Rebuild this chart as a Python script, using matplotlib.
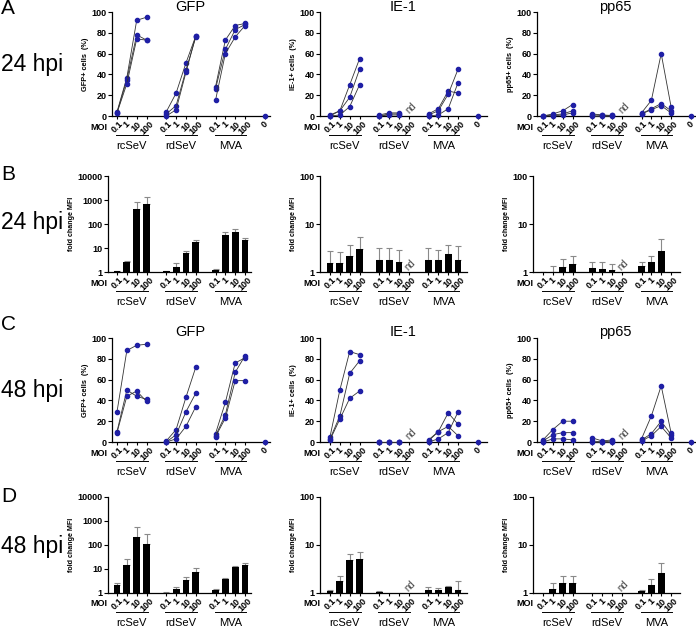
import numpy as np
import matplotlib.pyplot as plt
from matplotlib.transforms import blended_transform_factory
from matplotlib.ticker import NullLocator

plt.rcParams['font.family'] = ['Liberation Sans', 'DejaVu Sans']

W, H = 696, 627
BLUE = '#1f1fa5'
SLOT = 9.85

moi = ['0.1', '1', '10', '100']
groups = ['rcSeV', 'rdSeV', 'MVA']

# % positive cells, one line per donor (rdSeV 100 = nd)
gfp_24 = {'rcSeV': [[4, 37, 92, 95], [3, 35, 78, 73], [3, 31, 74, 73]],
          'rdSeV': [[4, 22, 51, 77], [2, 10, 44, 76], [0, 6, 42, 77]],
          'MVA': [[28, 73, 87, 89], [26, 64, 83, 88], [15, 60, 76, 87]]}
ie1_24 = {'rcSeV': [[1, 5, 30, 55], [0, 5, 18, 45], [0, 1, 9, 30]],
          'rdSeV': [[1, 3, 3], [0, 2, 2], [0, 1, 1]],
          'MVA': [[2, 7, 24, 22], [1, 5, 21, 45], [0, 1, 7, 32]]}
pp65_24 = {'rcSeV': [[0, 2, 5, 11], [0, 1, 2, 5], [0, 0, 1, 3]],
           'rdSeV': [[2, 1, 0.5], [1, 0.5, 0.5], [0, 0, 0]],
           'MVA': [[3, 15, 60, 9], [2, 7, 12, 5], [2, 6, 10, 3]]}
gfp_48 = {'rcSeV': [[29, 88, 93, 94], [10, 50, 44, 41], [9, 44, 49, 39]],
          'rdSeV': [[1, 12, 43, 72], [0, 7, 29, 47], [0, 3, 15, 34]],
          'MVA': [[8, 38, 76, 81], [6, 26, 67, 83], [5, 23, 59, 59]]}
ie1_48 = {'rcSeV': [[5, 50, 87, 84], [3, 25, 66, 78], [2, 22, 42, 49]],
          'rdSeV': [[0, 0, 0], [0, 0, 0], [0, 0, 0]],
          'MVA': [[2, 10, 28, 17], [1, 10, 15, 6], [0, 3, 9, 29]]}
pp65_48 = {'rcSeV': [[2, 12, 20, 20], [1, 7, 9, 9], [0, 3, 3, 2]],
           'rdSeV': [[4, 1, 2], [1, 0, 1], [0, 0, 0]],
           'MVA': [[3, 25, 54, 9], [2, 8, 20, 7], [1, 6, 15, 4]]}
mock = 0

# fold change MFI, mean and top of error bar (rcSeV, rdSeV, MVA x 4 MOI)
nan = np.nan
mfi_gfp_24 = [1.05, 2.6, 430, 650, 1.05, 1.6, 6, 17, 1.25, 35, 48, 22]
mfi_gfp_24_err = [1.05, 3.0, 800, 1300, 1.05, 2.3, 7.5, 21, 1.3, 45, 62, 26]
mfi_ie1_24 = [1.55, 1.52, 2.15, 3.0, 1.75, 1.75, 1.65, nan, 1.8, 1.8, 2.35, 1.75]
mfi_ie1_24_err = [2.7, 2.6, 3.7, 5.4, 3.1, 3.2, 2.9, nan, 3.1, 2.85, 3.6, 3.4]
mfi_pp65_24 = [1.0, 1.0, 1.28, 1.45, 1.2, 1.18, 1.12, nan, 1.33, 1.58, 2.75, nan]
mfi_pp65_24_err = [1.0, 1.32, 1.9, 2.2, 1.6, 1.6, 1.5, nan, 1.65, 2.2, 4.8, nan]
mfi_gfp_48 = [2.1, 15, 220, 110, 1.02, 1.45, 3.6, 7.8, 1.3, 3.8, 12, 14]
mfi_gfp_48_err = [2.5, 27, 570, 300, 1.05, 1.75, 4.5, 11, 1.4, 4.2, 13, 17]
mfi_ie1_48 = [1.12, 1.8, 4.8, 5.0, 1.04, nan, nan, nan, 1.18, 1.15, 1.35, 1.18]
mfi_ie1_48_err = [1.17, 2.25, 6.4, 7.1, 1.12, nan, nan, nan, 1.32, 1.25, 1.38, 1.75]
mfi_pp65_48 = [nan, 1.22, 1.6, 1.6, nan, nan, nan, nan, 1.12, 1.5, 2.6, nan]
mfi_pp65_48_err = [nan, 1.6, 2.3, 2.25, nan, nan, nan, nan, 1.15, 1.95, 4.2, nan]

fig = plt.figure(figsize=(W / 100, H / 100), dpi=100)

positions = [g * 5 + i for g in range(3) for i in range(4)]


def add_ax(left, right, top, bottom):
    return fig.add_axes([left / W, 1 - bottom / H, (right - left) / W, (bottom - top) / H])


def style(ax, x0, left, right, row_h, with_mock):
    ax.set_xlim((left - x0) / SLOT, (right - x0) / SLOT)
    for s in ['top', 'right']:
        ax.spines[s].set_visible(False)
    for s in ['left', 'bottom']:
        ax.spines[s].set_linewidth(0.9)
    ticks = list(positions)
    labels = moi * 3
    if with_mock:
        ticks.append(15)
        labels = labels + ['0']
    ax.set_xticks(ticks)
    ax.set_xticklabels(labels, rotation=45, fontsize=6.5, fontweight='bold')
    ax.tick_params(axis='x', length=2, pad=0.5, width=0.8)
    ax.tick_params(axis='y', length=3, pad=1, width=0.8)
    trans = blended_transform_factory(ax.transData, ax.transAxes)
    ax.text(-1.0, -11 / row_h, 'MOI', transform=trans, ha='right', va='center',
            fontsize=6.5, fontweight='bold')
    for g, name in enumerate(groups):
        ax.plot([g * 5 - 0.1, g * 5 + 3.1], [-19 / row_h] * 2, transform=trans,
                color='black', lw=0.7, clip_on=False)
        ax.text(g * 5 + 1.5, -30 / row_h, name, transform=trans, ha='center',
                va='center', fontsize=8)


def dot_panel(data, top, bottom, x0, left, right, ylabel, nd=False):
    ax = add_ax(left, right, top, bottom)
    for g, name in enumerate(groups):
        for series in data[name]:
            xs = [g * 5 + i for i in range(len(series))]
            ax.plot(xs, series, color='#333333', lw=0.6, marker='o', ms=3,
                    mfc=BLUE, mec=BLUE, clip_on=False, zorder=3)
    ax.plot(15, mock, 'o', ms=3, color=BLUE, clip_on=False, zorder=3)
    ax.set_ylim(0, 100)
    ax.set_yticks([0, 20, 40, 60, 80, 100])
    ax.set_yticklabels(['0', '20', '40', '60', '80', '100'], fontsize=6.5, fontweight='bold')
    ax.set_ylabel(ylabel, fontsize=5.3, fontweight='bold', labelpad=2)
    if nd:
        ax.text(8.25, 1, 'nd', rotation=45, fontsize=7, color='#444444',
                ha='center', va='bottom')
    style(ax, x0, left, right, bottom - top, True)
    return ax


def bar_panel(vals, errs, top, bottom, x0, left, right, ymax, nd=False):
    ax = add_ax(left, right, top, bottom)
    vals = np.array(vals, dtype=float)
    errs = np.array(errs, dtype=float)
    xs = np.array(positions, dtype=float)
    ok = ~np.isnan(vals)
    ax.set_yscale('log')
    ax.errorbar(xs[ok], vals[ok], yerr=[np.zeros(ok.sum()), errs[ok] - vals[ok]],
                fmt='none', ecolor='#8a8a8a', elinewidth=0.8, capsize=2, capthick=0.8, zorder=1)
    ax.bar(xs[ok], vals[ok] - 1, bottom=1, width=0.7, color='black', zorder=2)
    ax.set_ylim(1, ymax)
    ticks = [10 ** k for k in range(int(np.log10(ymax)) + 1)]
    ax.set_yticks(ticks)
    ax.set_yticklabels([str(t) for t in ticks], fontsize=6.5, fontweight='bold')
    ax.yaxis.set_minor_locator(NullLocator())
    ax.set_ylabel('fold change MFI', fontsize=5.1, fontweight='bold', labelpad=2)
    if nd:
        ax.text(8.1, 1.0, 'nd', rotation=45, fontsize=7, color='#444444',
                ha='center', va='bottom')
    style(ax, x0, left, right, bottom - top, False)
    return ax


# columns: (x of first MOI, dot-panel spine, dot-panel end, bar spine, bar end)
cols = [(117, 112, 270, 108, 251), (330, 320, 487, 320, 467), (543, 537, 696, 533, 680)]

dot_rows = [((12, 116), [gfp_24, ie1_24, pp65_24]), ((338, 442), [gfp_48, ie1_48, pp65_48])]
bar_rows = [((176, 272), [(mfi_gfp_24, mfi_gfp_24_err, 10000), (mfi_ie1_24, mfi_ie1_24_err, 100),
                          (mfi_pp65_24, mfi_pp65_24_err, 100)]),
            ((497, 593), [(mfi_gfp_48, mfi_gfp_48_err, 10000), (mfi_ie1_48, mfi_ie1_48_err, 100),
                          (mfi_pp65_48, mfi_pp65_48_err, 100)])]
ylabels = ['GFP+ cells  (%)', 'IE-1+ cells  (%)', 'pp65+ cells  (%)']

for (top, bottom), datas in dot_rows:
    for c, data in enumerate(datas):
        x0, l, r, _, _ = cols[c]
        dot_panel(data, top, bottom, x0, l, r, ylabels[c], nd=(c > 0))

for (top, bottom), sets in bar_rows:
    for c, (v, e, ymax) in enumerate(sets):
        x0, _, _, l, r = cols[c]
        bar_panel(v, e, top, bottom, x0, l, r, ymax, nd=(c > 0))

# titles
for y in (7, 332):
    for name, x in [('GFP', 190), ('IE-1', 403), ('pp65', 615)]:
        fig.text(x / W, 1 - y / H, name, ha='center', va='center', fontsize=10.5)

# panel letters and time points
for letter, y in [('A', 9), ('B', 175), ('C', 325), ('D', 497)]:
    fig.text(1 / W, 1 - y / H, letter, ha='left', va='center', fontsize=15)
for label, y in [('24 hpi', 64), ('24 hpi', 223), ('48 hpi', 390), ('48 hpi', 547)]:
    fig.text(1 / W, 1 - y / H, label, ha='left', va='center', fontsize=16.5)

fig.savefig('out.png', dpi=100)
